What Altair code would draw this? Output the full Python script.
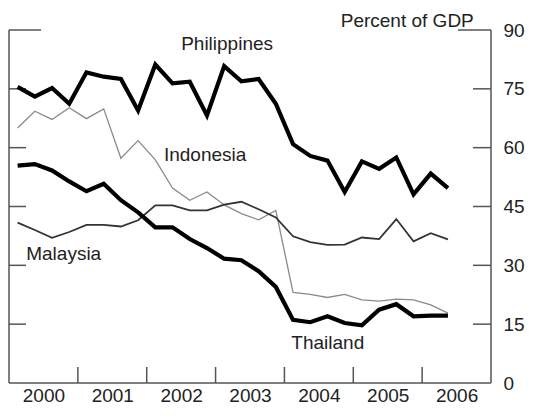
import altair as alt
import pandas as pd

# Quarterly observations, 2000Q1 .. 2006Q2
quarters = ["2000Q1", "2000Q2", "2000Q3", "2000Q4",
            "2001Q1", "2001Q2", "2001Q3", "2001Q4",
            "2002Q1", "2002Q2", "2002Q3", "2002Q4",
            "2003Q1", "2003Q2", "2003Q3", "2003Q4",
            "2004Q1", "2004Q2", "2004Q3", "2004Q4",
            "2005Q1", "2005Q2", "2005Q3", "2005Q4",
            "2006Q1", "2006Q2"]

philippines = [75.5, 73.0, 75.2, 71.2, 79.2, 78.1, 77.5, 69.5, 81.2, 76.4, 76.8, 68.2, 80.8,
               76.9, 77.5, 71.2, 60.9, 57.9, 56.7, 48.7, 56.5, 54.6, 57.5, 48.1, 53.4, 49.7]
indonesia = [65.0, 69.3, 67.2, 70.2, 67.4, 69.9, 57.3, 61.8, 56.9, 49.7, 46.6, 48.7, 45.4,
             43.2, 41.6, 44.0, 23.1, 22.6, 21.8, 22.6, 21.2, 20.9, 21.4, 21.2, 19.9, 17.8]
thailand = [55.4, 55.8, 54.2, 51.4, 48.9, 50.8, 46.6, 43.5, 39.7, 39.7, 36.7, 34.4, 31.7,
            31.3, 28.5, 24.5, 16.1, 15.5, 17.0, 15.3, 14.7, 18.7, 20.1, 17.0, 17.2, 17.2]
malaysia = [40.9, 39.0, 37.0, 38.5, 40.3, 40.3, 39.9, 41.5, 45.3, 45.3, 44.0, 44.0, 45.5,
            46.2, 44.3, 42.2, 37.4, 35.9, 35.2, 35.3, 37.1, 36.7, 41.8, 36.1, 38.2, 36.6]

y_ticks = [0, 15, 30, 45, 60, 75, 90]
inner_ticks = [15, 30, 45, 60, 75]
top_ticks = [90]
year_bounds = [2001, 2002, 2003, 2004, 2005, 2006]
year_labels_at = [2000.5, 2001.5, 2002.5, 2003.5, 2004.5, 2005.5, 2006.5]

labels = ["Philippines", "Indonesia", "Malaysia", "Thailand"]
label_x = [2002.5, 2002.25, 2000.25, 2004.1]
label_y = [86.5, 58.2, 33.0, 10.3]

W, H = 482, 353
FONT = "Liberation Sans"
FS = 19


def qtime(q):
    return int(q[:4]) + (int(q[5]) - 0.5) / 4


t = [qtime(q) for q in quarters]

xs = alt.Scale(domain=[2000, 2007], nice=False, zero=False)
ys = alt.Scale(domain=[0, 90], nice=False)

X_AXIS = alt.Axis(
    values=year_labels_at, labelExpr="floor(datum.value)", title=None, domain=False,
    ticks=False, grid=False, labelPadding=3, labelFontSize=FS, labelFont=FONT,
    labelColor="#222", labelFlush=False)
Y_AXIS = alt.Axis(
    orient="right", values=y_ticks, title=None, domain=False, ticks=False, grid=False,
    labelPadding=12, labelFontSize=FS, labelFont=FONT, labelColor="#222")


def X(field="t:Q"):
    return alt.X(field, scale=xs, axis=X_AXIS)


def Y(field="v:Q"):
    return alt.Y(field, scale=ys, axis=Y_AXIS)


def series(vals, color, width):
    df = pd.DataFrame({"t": t, "v": vals})
    return alt.Chart(df).mark_line(color=color, strokeWidth=width, strokeJoin="miter",
                                   strokeMiterLimit=3).encode(x=X(), y=Y())


FRAME = "#555"
frame_v = alt.Chart(pd.DataFrame({"t": [2000, 2007], "v": [0, 0], "v2": [90, 90]})).mark_rule(
    color=FRAME, strokeWidth=1.5).encode(x=X(), y=Y(), y2="v2:Q")
frame_b = alt.Chart(pd.DataFrame({"v": [0]})).mark_rule(
    color=FRAME, strokeWidth=1.5).encode(y=Y(), x=alt.value(0), x2=alt.value(W))

tick_df = pd.DataFrame({"v": inner_ticks})
lt = alt.Chart(tick_df).mark_rule(color=FRAME, strokeWidth=1.5).encode(
    y=Y(), x=alt.value(0), x2=alt.value(17))
rt = alt.Chart(tick_df).mark_rule(color=FRAME, strokeWidth=1.5).encode(
    y=Y(), x=alt.value(W - 18), x2=alt.value(W))
top_df = pd.DataFrame({"v": top_ticks})
ltt = alt.Chart(top_df).mark_rule(color=FRAME, strokeWidth=1.5).encode(
    y=Y(), x=alt.value(0), x2=alt.value(32))
rtt = alt.Chart(top_df).mark_rule(color=FRAME, strokeWidth=1.5).encode(
    y=Y(), x=alt.value(W - 33), x2=alt.value(W))
bt = alt.Chart(pd.DataFrame({"t": year_bounds})).mark_rule(
    color=FRAME, strokeWidth=1.5).encode(
    x=X(), y=alt.value(H), y2=alt.value(H - 16))

lab = alt.Chart(pd.DataFrame({"t": label_x, "v": label_y, "s": labels})).mark_text(
    align="left", baseline="middle", font=FONT, fontSize=FS, color="#222").encode(
    x=X(), y=Y(), text="s:N")

unit = alt.Chart(pd.DataFrame({"t": [2006.75], "v": [92.3], "s": ["Percent of GDP"]})).mark_text(
    align="right", baseline="middle", font=FONT, fontSize=FS, color="#222").encode(
    x=X(), y=Y(), text="s:N")

chart = alt.layer(
    frame_v, frame_b, lt, rt, ltt, rtt, bt,
    series(indonesia, "#8a8a8a", 1.3),
    series(malaysia, "#333333", 1.8),
    series(thailand, "#000000", 4.2),
    series(philippines, "#000000", 4.2),
    lab, unit,
).properties(
    width=W, height=H,
    autosize=alt.AutoSizeParams(type="none"),
    padding={"left": 1, "top": 22, "right": 38, "bottom": 23},
).configure_view(stroke=None)

chart.save("out.html", embed_options={"renderer": "svg", "actions": False})
